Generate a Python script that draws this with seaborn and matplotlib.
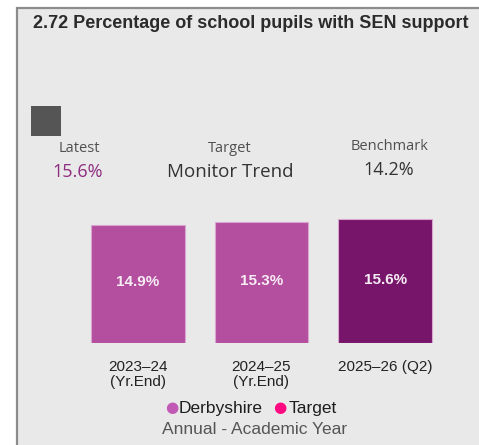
import matplotlib
matplotlib.use("Agg")
import matplotlib.pyplot as plt
from matplotlib.patches import Rectangle
import seaborn as sns
import pandas as pd

# Data
periods = ["2023–24\n(Yr.End)", "2024–25\n(Yr.End)", "2025–26 (Q2)"]
values = [14.9, 15.3, 15.6]
bar_colors = ["#B44E9F", "#B44E9F", "#77156A"]
latest_label = "15.6%"
target_label = "Monitor Trend"
benchmark_label = "14.2%"

sns.set_theme(style="white")
plt.rcParams["font.family"] = ["Liberation Sans", "DejaVu Sans"]

W, H = 479, 445
fig = plt.figure(figsize=(W / 100, H / 100), dpi=100)
fig.patch.set_facecolor("white")

def fx(px):
    return px / W

def fy(py):
    return 1 - py / H

# Panel background and border
panel = Rectangle((fx(17), -0.02), 1 - fx(17) + 0.02, fy(8) + 0.02, transform=fig.transFigure,
                  facecolor="#E9E9E9", edgecolor="#8C8C8C", linewidth=1.6, zorder=-10)
fig.patches.append(panel)

# Title
fig.text(fx(251), fy(23), "2.72 Percentage of school pupils with SEN support",
         ha="center", va="center", fontsize=13, fontweight="bold", color="#2B2B2B")

# Status square
fig.patches.append(Rectangle((fx(31), fy(136)), fx(30), 30 / H, transform=fig.transFigure,
                             facecolor="#555555", edgecolor="none", zorder=-5))

# Headline figures
hfont = ["Open Sans", "DejaVu Sans"]
fig.text(fx(79), fy(149), "Latest", ha="center", va="center", fontsize=10.5,
         color="#505050", family=hfont)
fig.text(fx(78), fy(172), latest_label, ha="center", va="center", fontsize=13,
         color="#8E2C80", family=hfont)
fig.text(fx(230), fy(149), "Target", ha="center", va="center", fontsize=10.5,
         color="#505050", family=hfont)
fig.text(fx(230), fy(172), target_label, ha="center", va="center", fontsize=13.5,
         color="#333333", family=hfont)
fig.text(fx(390), fy(147), "Benchmark", ha="center", va="center", fontsize=10.5,
         color="#505050", family=hfont)
fig.text(fx(389), fy(170), benchmark_label, ha="center", va="center", fontsize=13,
         color="#333333", family=hfont)

# Bar chart
ax_left, ax_right = 76, 447
ax_top, ax_bottom = 200.4, 343
ax = fig.add_axes([fx(ax_left), fy(ax_bottom), fx(ax_right - ax_left), (ax_bottom - ax_top) / H])
ax.set_facecolor("none")

df = pd.DataFrame({"period": periods, "value": values})
sns.barplot(data=df, x="period", y="value", hue="period", palette=bar_colors,
            width=0.76, legend=False, ax=ax, saturation=1)
for p in ax.patches:
    p.set_edgecolor("#D9A6CF")
    p.set_linewidth(0.8)

for i, v in enumerate(values):
    ax.text(i, v / 2 + 0.2, f"{v}%", ha="center", va="center", fontsize=11,
            fontweight="bold", color="#F6ECF4")

ax.set_xlim(-0.5, 2.5)
ax.set_ylim(0, 18)
ax.set_xlabel("")
ax.set_ylabel("")
ax.set_yticks([])
ax.tick_params(axis="x", length=0, pad=12, labelsize=11, labelcolor="#222222")
for lbl in ax.get_xticklabels():
    lbl.set_va("top")
    lbl.set_linespacing(1.15)
sns.despine(ax=ax, left=True, bottom=True)

# Legend
fig.text(fx(171.5), fy(408), "●", ha="center", va="center", fontsize=11, color="#C05AB4",
         family=["DejaVu Sans"])
fig.text(fx(179), fy(408), "Derbyshire", ha="left", va="center", fontsize=12.5, color="#1E1E1E")
fig.text(fx(280), fy(408), "●", ha="center", va="center", fontsize=11, color="#FF0A80",
         family=["DejaVu Sans"])
fig.text(fx(289), fy(408), "Target", ha="left", va="center", fontsize=12.5, color="#1E1E1E")

fig.text(fx(255), fy(430), "Annual - Academic Year", ha="center", va="center",
         fontsize=12.5, color="#555555")

fig.savefig("out.png", dpi=100, facecolor="white")
